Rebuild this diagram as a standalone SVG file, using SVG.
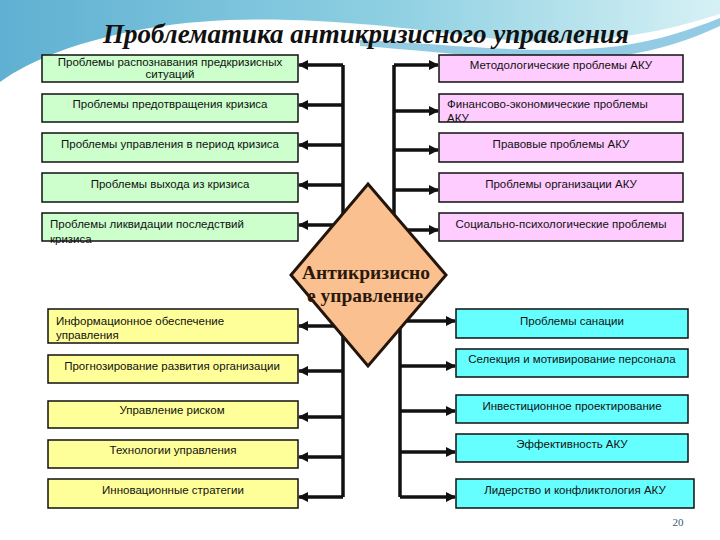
<svg xmlns="http://www.w3.org/2000/svg" width="720" height="540" viewBox="0 0 720 540">
<defs>
<linearGradient id="sky" x1="0" y1="0" x2="1" y2="0">
<stop offset="0" stop-color="#5fb0d2"/>
<stop offset="0.55" stop-color="#8fd0e2"/>
<stop offset="1" stop-color="#d6f1f5"/>
</linearGradient>
<marker id="ah" markerUnits="userSpaceOnUse" markerWidth="10" markerHeight="10" viewBox="0 0 10 10" refX="9" refY="5" orient="auto">
<path d="M0,0 L10,5 L0,10 Z" fill="#111"/>
</marker>
<style>
.t{font-family:"Liberation Sans","DejaVu Sans",sans-serif;font-size:11.5px;fill:#111}
.c{text-anchor:middle}
.g{fill:#ccffcc;stroke:#111;stroke-width:1.5}
.p{fill:#ffccff;stroke:#111;stroke-width:1.5}
.y{fill:#ffff99;stroke:#111;stroke-width:1.5}
.b{fill:#66ffff;stroke:#111;stroke-width:1.5}
.ln{fill:none;stroke:#111;stroke-width:3.5}
.ar{fill:none;stroke:#111;stroke-width:3.5;marker-end:url(#ah)}
</style>
</defs>
<rect width="720" height="540" fill="#ffffff"/>
<path d="M0,0 H720 V14 C640,40 560,48 470,36 C380,24 250,10 150,28 C80,40 30,60 0,82 Z" fill="url(#sky)"/>
<path d="M360,40 C450,44 540,56 620,46 C660,40 690,30 720,18 V26 C690,40 660,50 620,56 C540,66 450,52 360,46 Z" fill="#4aa8d0" opacity="0.6"/>
<text x="366" y="43" text-anchor="middle" font-family="Liberation Serif,serif" font-style="italic" font-weight="bold" font-size="27" fill="#111">Проблематика антикризисного управления</text>

<g id="connectors">
<line class="ln" x1="343" y1="65" x2="343" y2="240"/>
<line class="ln" x1="394" y1="65" x2="394" y2="240"/>
<line class="ln" x1="343" y1="320" x2="343" y2="497"/>
<line class="ln" x1="400" y1="315" x2="400" y2="497"/>
<line class="ar" x1="343" y1="65" x2="299" y2="65"/>
<line class="ar" x1="343" y1="105" x2="299" y2="105"/>
<line class="ar" x1="343" y1="145" x2="299" y2="145"/>
<line class="ar" x1="343" y1="185" x2="299" y2="185"/>
<line class="ar" x1="343" y1="225" x2="299" y2="225"/>
<line class="ar" x1="394" y1="65" x2="438" y2="65"/>
<line class="ar" x1="394" y1="111" x2="438" y2="111"/>
<line class="ar" x1="394" y1="150" x2="438" y2="150"/>
<line class="ar" x1="394" y1="190" x2="438" y2="190"/>
<line class="ar" x1="394" y1="230" x2="438" y2="230"/>
<line class="ar" x1="343" y1="326" x2="299" y2="326"/>
<line class="ar" x1="343" y1="371" x2="299" y2="371"/>
<line class="ar" x1="343" y1="417" x2="299" y2="417"/>
<line class="ar" x1="343" y1="457" x2="299" y2="457"/>
<line class="ar" x1="343" y1="497" x2="299" y2="497"/>
<line class="ar" x1="400" y1="321" x2="455" y2="321"/>
<line class="ar" x1="400" y1="366" x2="455" y2="366"/>
<line class="ar" x1="400" y1="411" x2="455" y2="411"/>
<line class="ar" x1="400" y1="452" x2="455" y2="452"/>
<line class="ar" x1="400" y1="497" x2="455" y2="497"/>
</g>

<g id="center">
<polygon points="368,184 446,275 368,366 291,275" fill="#fac090" stroke="#24150c" stroke-width="3"/>
<text x="366" y="279" text-anchor="middle" font-family="Liberation Serif,serif" font-weight="bold" font-size="19.5" fill="#2b190c">Антикризисно</text>
<text x="365" y="302" text-anchor="middle" font-family="Liberation Serif,serif" font-weight="bold" font-size="19.5" fill="#2b190c">е управление</text>
</g>

<g id="l1"><rect class="g" x="42" y="55" width="256" height="27"/><text class="t c" x="170" y="66">Проблемы распознавания предкризисных</text><text class="t c" x="170" y="78">ситуаций</text></g>
<g id="l2"><rect class="g" x="42" y="94" width="256" height="28"/><text class="t c" x="170" y="108">Проблемы предотвращения кризиса</text></g>
<g id="l3"><rect class="g" x="42" y="133" width="256" height="29"/><text class="t c" x="170" y="148">Проблемы управления в период кризиса</text></g>
<g id="l4"><rect class="g" x="42" y="173" width="256" height="29"/><text class="t c" x="170" y="188">Проблемы выхода из кризиса</text></g>
<g id="l5"><rect class="g" x="42" y="213" width="256" height="28"/><text class="t" x="50" y="228">Проблемы ликвидации последствий</text><text class="t" x="50" y="243">кризиса</text></g>

<g id="r1"><rect class="p" x="439" y="55" width="244" height="27"/><text class="t c" x="561" y="69">Методологические проблемы АКУ</text></g>
<g id="r2"><rect class="p" x="439" y="94" width="244" height="28"/><text class="t" x="447" y="108">Финансово-экономические проблемы</text><text class="t" x="447" y="122">АКУ</text></g>
<g id="r3"><rect class="p" x="439" y="133" width="244" height="29"/><text class="t c" x="561" y="148">Правовые проблемы АКУ</text></g>
<g id="r4"><rect class="p" x="439" y="173" width="244" height="29"/><text class="t c" x="561" y="188">Проблемы организации АКУ</text></g>
<g id="r5"><rect class="p" x="439" y="213" width="244" height="28"/><text class="t c" x="561" y="228">Социально-психологические проблемы</text></g>

<g id="y1"><rect class="y" x="48" y="309" width="250" height="34"/><text class="t" x="56" y="325">Информационное обеспечение</text><text class="t" x="56" y="339">управления</text></g>
<g id="y2"><rect class="y" x="48" y="355" width="250" height="28"/><text class="t c" x="172" y="370">Прогнозирование развития организации</text></g>
<g id="y3"><rect class="y" x="48" y="401" width="250" height="27"/><text class="t c" x="172" y="414">Управление риском</text></g>
<g id="y4"><rect class="y" x="48" y="440" width="250" height="28"/><text class="t c" x="173" y="454">Технологии управления</text></g>
<g id="y5"><rect class="y" x="48" y="479" width="250" height="29"/><text class="t c" x="173" y="494">Инновационные стратегии</text></g>

<g id="c1"><rect class="b" x="456" y="309" width="232" height="29"/><text class="t c" x="572" y="325">Проблемы санации</text></g>
<g id="c2"><rect class="b" x="456" y="349" width="232" height="28"/><text class="t c" x="572" y="363">Селекция и мотивирование персонала</text></g>
<g id="c3"><rect class="b" x="456" y="395" width="232" height="28"/><text class="t c" x="572" y="410">Инвестиционное проектирование</text></g>
<g id="c4"><rect class="b" x="456" y="434" width="232" height="28"/><text class="t c" x="572" y="448">Эффективность АКУ</text></g>
<g id="c5"><rect class="b" x="456" y="479" width="238" height="29"/><text class="t c" x="575" y="494">Лидерство и конфликтология АКУ</text></g>

<text x="678" y="526" text-anchor="middle" font-family="Liberation Serif,serif" font-size="11" fill="#3a5a7a">20</text>
</svg>
